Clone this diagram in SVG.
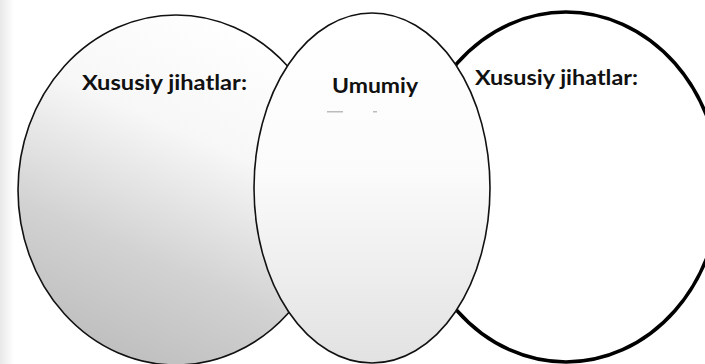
<svg xmlns="http://www.w3.org/2000/svg" width="705" height="364" viewBox="0 0 705 364">
  <defs>
    <linearGradient id="gLeft" x1="0.7" y1="0" x2="0.3" y2="1">
      <stop offset="0" stop-color="#ffffff"/>
      <stop offset="0.35" stop-color="#f7f7f7"/>
      <stop offset="0.7" stop-color="#d2d2d2"/>
      <stop offset="1" stop-color="#bdbdbd"/>
    </linearGradient>
    <linearGradient id="gMid" x1="0" y1="0" x2="0" y2="1">
      <stop offset="0" stop-color="#ffffff"/>
      <stop offset="0.45" stop-color="#fbfbfb"/>
      <stop offset="1" stop-color="#e2e2e2"/>
    </linearGradient>
    <linearGradient id="gBg" x1="0" y1="0" x2="1" y2="0">
      <stop offset="0" stop-color="#e8e8e8"/>
      <stop offset="1" stop-color="#ffffff"/>
    </linearGradient>
    <style>
      .lbl { font-family: Lato, "Liberation Sans", sans-serif; font-weight: bold; font-size: 20px; fill: #111; }
      .thin { stroke: #111; stroke-width: 1.6; }
      .thick { stroke: #000; stroke-width: 3.5; }
    </style>
  </defs>
  <rect x="0" y="0" width="705" height="364" fill="#ffffff"/>
  <rect x="0" y="0" width="14" height="364" fill="url(#gBg)"/>
  <g id="left">
    <ellipse cx="176" cy="190" rx="158" ry="175" fill="url(#gLeft)" class="thin"/>
    <text class="lbl" x="82" y="90" textLength="165" lengthAdjust="spacingAndGlyphs">Xususiy jihatlar:</text>
  </g>
  <g id="right">
    <ellipse cx="566" cy="187" rx="154" ry="175" fill="#ffffff" class="thick"/>
    <text class="lbl" x="475" y="85" textLength="163" lengthAdjust="spacingAndGlyphs">Xususiy jihatlar:</text>
  </g>
  <g id="middle">
    <ellipse cx="372" cy="188" rx="118" ry="175" fill="url(#gMid)" class="thin"/>
    <text class="lbl" x="332" y="93" textLength="86" lengthAdjust="spacingAndGlyphs">Umumiy</text>
    <rect x="327" y="111" width="16" height="1.5" fill="#bbbbbb"/>
    <rect x="373" y="111" width="4" height="1.5" fill="#bbbbbb"/>
  </g>
  <g id="connectors"/>
</svg>
